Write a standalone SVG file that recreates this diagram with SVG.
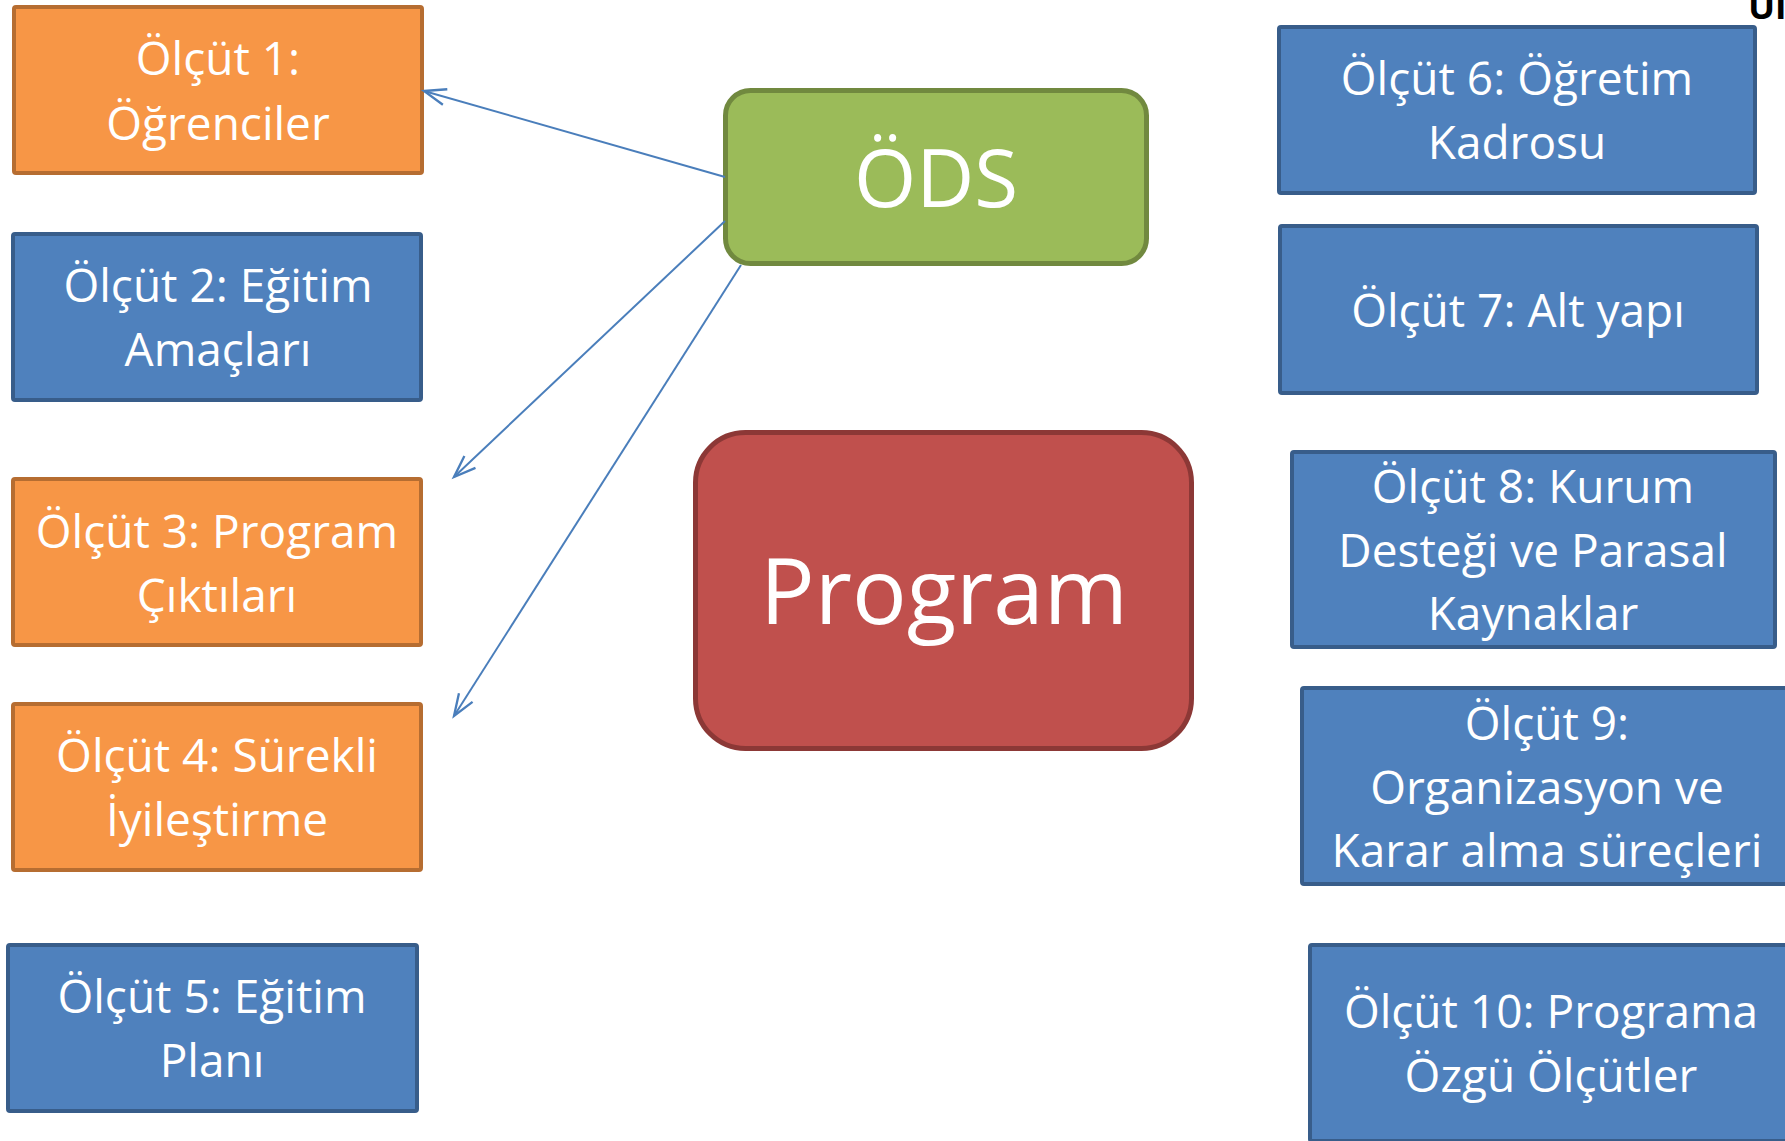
<svg xmlns="http://www.w3.org/2000/svg" width="1785" height="1141" viewBox="0 0 1785 1141">
<style>
.t{font-family:"Open Sans","Noto Sans","DejaVu Sans",sans-serif;font-size:46px;fill:#fff;text-anchor:middle}
.or{fill:#F79646;stroke:#B66D31;stroke-width:4}
.bl{fill:#4F81BD;stroke:#385D8A;stroke-width:4}
.conn{stroke:#4A7EBB;stroke-width:2;fill:none}
</style>
<defs>
<marker id="arr" markerUnits="userSpaceOnUse" markerWidth="30" markerHeight="30" viewBox="-22 -12 26 24" refX="0" refY="0" orient="auto">
<path d="M-19,-7 L0,0 L-19,7" fill="none" stroke="#4A7EBB" stroke-width="2"/>
</marker>
</defs>
<rect width="1785" height="1141" fill="#fff"/>
<g id="n1"><rect class="or" x="14" y="7" width="408" height="166" rx="2"/><text class="t" x="218" y="75">Ölçüt 1:</text><text class="t" x="218" y="140">Öğrenciler</text></g>
<g id="n2"><rect class="bl" x="13" y="234" width="408" height="166" rx="2"/><text class="t" x="218" y="302">Ölçüt 2: Eğitim</text><text class="t" x="218" y="366">Amaçları</text></g>
<g id="n3"><rect class="or" x="13" y="479" width="408" height="166" rx="2"/><text class="t" x="217" y="548">Ölçüt 3: Program</text><text class="t" x="217" y="612">Çıktıları</text></g>
<g id="n4"><rect class="or" x="13" y="704" width="408" height="166" rx="2"/><text class="t" x="217" y="772">Ölçüt 4: Sürekli</text><text class="t" x="217" y="836">İyileştirme</text></g>
<g id="n5"><rect class="bl" x="8" y="945" width="409" height="166" rx="2"/><text class="t" x="212" y="1013">Ölçüt 5: Eğitim</text><text class="t" x="212" y="1077">Planı</text></g>
<g id="n6"><rect class="bl" x="1279" y="27" width="476" height="166" rx="2"/><text class="t" x="1517" y="95">Ölçüt 6: Öğretim</text><text class="t" x="1517" y="159">Kadrosu</text></g>
<g id="n7"><rect class="bl" x="1280" y="226" width="477" height="167" rx="2"/><text class="t" x="1518" y="327">Ölçüt 7: Alt yapı</text></g>
<g id="n8"><rect class="bl" x="1292" y="452" width="483" height="195" rx="2"/><text class="t" x="1533" y="503">Ölçüt 8: Kurum</text><text class="t" x="1533" y="567">Desteği ve Parasal</text><text class="t" x="1533" y="630">Kaynaklar</text></g>
<g id="n9"><rect class="bl" x="1302" y="688" width="492" height="196" rx="2"/><text class="t" x="1547" y="740">Ölçüt 9:</text><text class="t" x="1547" y="804">Organizasyon ve</text><text class="t" x="1547" y="867">Karar alma süreçleri</text></g>
<g id="n10"><rect class="bl" x="1310" y="945" width="484" height="196" rx="2"/><text class="t" x="1551" y="1028">Ölçüt 10: Programa</text><text class="t" x="1551" y="1092">Özgü Ölçütler</text></g>
<g id="ods"><rect x="725.5" y="90.5" width="421" height="173" rx="25" fill="#9BBB59" stroke="#71893F" stroke-width="5"/><text class="t" x="936" y="207" style="font-size:80px">ÖDS</text></g>
<g id="program"><rect x="695.5" y="432.5" width="496" height="316" rx="50" fill="#C0504D" stroke="#8C3836" stroke-width="5"/><text class="t" x="944" y="624" style="font-size:91px">Program</text></g>
<g id="label"><text x="1748" y="19" style="font-family:'Open Sans','DejaVu Sans',sans-serif;font-size:36px;font-weight:bold;fill:#000">Ül</text></g>
<g id="connectors">
<line class="conn" x1="725" y1="177" x2="424" y2="91" marker-end="url(#arr)"/>
<line class="conn" x1="725" y1="221" x2="454" y2="477" marker-end="url(#arr)"/>
<line class="conn" x1="741" y1="265" x2="454" y2="716" marker-end="url(#arr)"/>
</g>
</svg>
